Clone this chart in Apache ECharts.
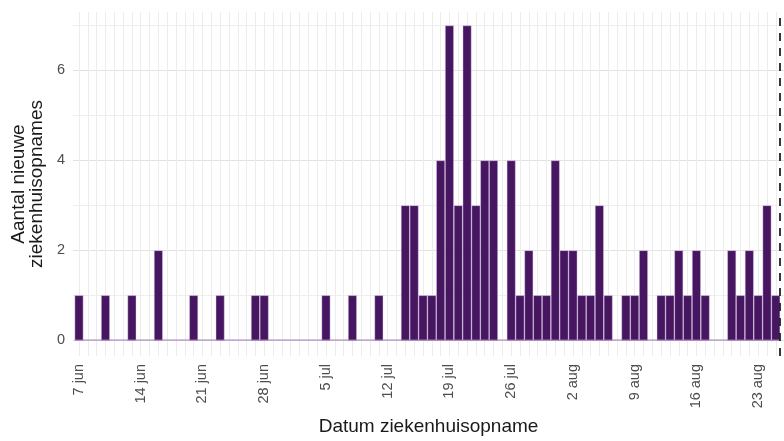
<!DOCTYPE html>
<html>
<head>
<meta charset="utf-8">
<script src="https://cdn.jsdelivr.net/npm/echarts@6/dist/echarts.min.js"></script>
<style>
html,body{margin:0;padding:0;background:#ffffff;}
#chart{width:784px;height:441px;}
</style>
</head>
<body>
<div id="chart"></div>
<script>
// Days counted from 7 jun (day 0) to 26 aug (day 79)
const admissions = [
  1,0,0,1,0,0,1,0,0,2,
  0,0,0,1,0,0,1,0,0,0,
  1,1,0,0,0,0,0,0,1,0,
  0,1,0,0,1,0,0,3,3,1,
  1,4,7,3,7,3,4,4,0,4,
  1,2,1,1,4,2,2,1,1,3,
  1,0,1,1,2,0,1,1,2,1,
  2,1,0,0,2,1,2,1,3,1
];
const tickDays = [0,7,14,21,28,35,42,49,56,63,70,77];
const tickLabels = ['7 jun','14 jun','21 jun','28 jun','5 jul','12 jul','19 jul','26 jul','2 aug','9 aug','16 aug','23 aug'];
const yLabelValues = [0,2,4,6];
const yGridValues = [0,1,2,3,4,5,6,7];
const cutoffDay = 79.5;

const dayIndex = admissions.map((v, i) => i);
const barData = admissions.map((v, i) => [i, v]);
const baseline = [[dayIndex[0] - 0.5, 0], [dayIndex[dayIndex.length - 1] + 0.5, 0]];

const labelMap = {};
tickDays.forEach((d, i) => { labelMap[d] = tickLabels[i]; });

const FONT = 'Liberation Sans, Arial, sans-serif';
const chart = echarts.init(document.getElementById('chart'), null, {renderer: 'canvas'});
chart.setOption({
  backgroundColor: '#ffffff',
  animation: false,
  textStyle: {fontFamily: FONT},
  grid: {left: 73, right: 0, top: 12, bottom: 83, containLabel: false},
  xAxis: {
    type: 'value',
    min: -0.68,
    max: 79.93,
    name: 'Datum ziekenhuisopname',
    nameLocation: 'middle',
    nameGap: 61,
    nameTextStyle: {fontSize: 19, color: '#1a1a1a', fontFamily: FONT},
    axisLine: {show: false},
    axisTick: {show: false, customValues: dayIndex},
    axisLabel: {
      customValues: tickDays,
      rotate: 90,
      margin: 8,
      fontSize: 14.5,
      color: '#4d4d4d',
      fontFamily: FONT,
      formatter: v => labelMap[Math.round(v)] || ''
    },
    splitLine: {show: true, lineStyle: {color: '#ececec', width: 1}}
  },
  yAxis: {
    type: 'value',
    min: -0.35,
    max: 7.3,
    name: 'Aantal nieuwe\nziekenhuisopnames',
    nameLocation: 'middle',
    nameGap: 21,
    nameTextStyle: {fontSize: 19, lineHeight: 18, color: '#1a1a1a', align: 'center', fontFamily: FONT},
    axisLine: {show: false},
    axisTick: {show: false, customValues: yGridValues},
    axisLabel: {
      customValues: yLabelValues,
      margin: 8,
      fontSize: 14.5,
      color: '#4d4d4d',
      fontFamily: FONT
    },
    splitLine: {show: true, lineStyle: {color: ['#e2e2e2', '#eeeeee'], width: 1}}
  },
  series: [
    {
      type: 'line',
      data: baseline,
      symbol: 'none',
      silent: true,
      lineStyle: {color: '#9d82b3', width: 1.3},
      z: 1
    },
    {
      type: 'bar',
      data: barData,
      barWidth: 8.82,
      itemStyle: {color: '#461661', borderColor: 'rgba(225,205,235,0.7)', borderWidth: 0.6},
      z: 2,
      markLine: {
        silent: true,
        symbol: 'none',
        label: {show: false},
        lineStyle: {color: '#222222', type: [8, 7], width: 1.8},
        data: [{xAxis: cutoffDay}]
      }
    }
  ]
});
</script>
</body>
</html>
